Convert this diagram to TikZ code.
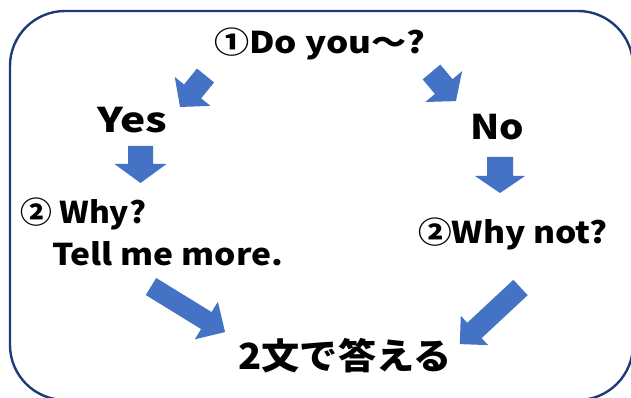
\documentclass[tikz,border=0pt]{standalone}
\usepackage{graphicx}
\usepackage{fontspec}
\setmainfont{Noto Sans CJK JP}
\definecolor{arrowblue}{HTML}{4472C4}
\definecolor{framenavy}{HTML}{1F3A78}
\newcommand\blockarr[7]{% x y angle L w W h
  \fill[arrowblue, shift={(#1,#2)}, rotate=#3]
    (0,-#5/2) -- (#4-#7,-#5/2) -- (#4-#7,-#6/2) -- (#4,0) --
    (#4-#7,#6/2) -- (#4-#7,#5/2) -- (0,#5/2) -- cycle;}
\begin{document}
\begin{tikzpicture}[x=1pt,y=-1pt,
  txt/.style={inner sep=0pt, anchor=west, text=black},
  frame/.style={draw=framenavy, line width=2.4pt, rounded corners=55pt}]
\useasboundingbox (0,0) rectangle (631,398);
\clip (0,0) rectangle (631,398);
\fill[white] (0,0) rectangle (631,398);
\draw[frame] (10,11) rectangle (633,400);
% arrows
\blockarr{205.5}{75.5}{-129}{40.5}{22}{46}{20}
\blockarr{431.5}{72}{-50}{38}{23}{48}{19}
\blockarr{140.5}{146}{-90}{37}{25}{52}{19}
\blockarr{500}{157}{-90}{36}{26}{50}{17}
\blockarr{151}{286.5}{-31.6}{87}{20}{44}{22}
\blockarr{520.5}{287.5}{-137}{83}{21}{40}{20}
% texts
\node[txt, font=\bfseries\fontsize{30}{30}\selectfont] (q1) at (214,44) {\scalebox{1.17}[1]{①Do you～?}};
\node[txt, font=\bfseries\fontsize{34}{34}\selectfont] (yes) at (97,120) {\scalebox{1.25}[1]{Yes}};
\node[txt, font=\bfseries\fontsize{34}{34}\selectfont] (no) at (470,127) {\scalebox{1.13}[1]{No}};
\node[txt, font=\bfseries\fontsize{30}{30}\selectfont] (why) at (20,214) {\scalebox{1.06}[1]{② Why?}};
\node[txt, font=\bfseries\fontsize{30}{30}\selectfont] (tell) at (52,254) {\scalebox{1.12}[1]{Tell me more.}};
\node[txt, font=\bfseries\fontsize{30}{30}\selectfont] (whynot) at (418,234) {\scalebox{1.12}[1]{②Why not?}};
\node[txt, anchor=center, font=\bfseries\fontsize{36}{36}\selectfont] (ans) at (345,356) {\scalebox{1.06}[1]{2文で答える}};
\end{tikzpicture}
\end{document}
